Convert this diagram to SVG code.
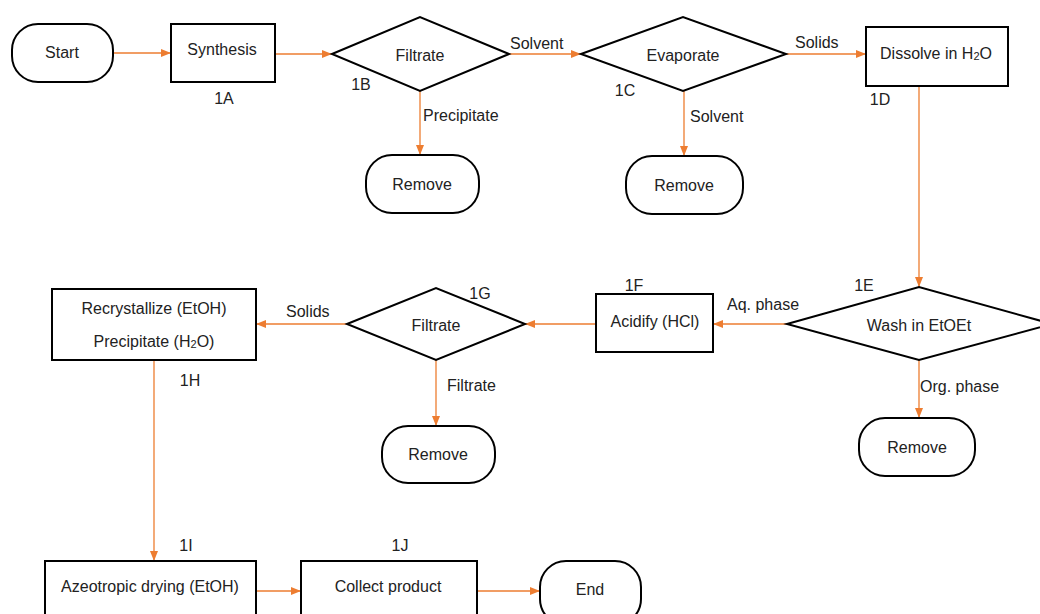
<svg xmlns="http://www.w3.org/2000/svg" width="1040" height="614" viewBox="0 0 1040 614">
<defs>
<marker id="ah" markerWidth="10" markerHeight="8" refX="10" refY="4" orient="auto" markerUnits="userSpaceOnUse">
<path d="M0,0 L10,4 L0,8 Z" fill="#ED7D31"/>
</marker>
<style>
.n{fill:#fff;stroke:#000;stroke-width:2}
.t{font-family:"Liberation Sans",Arial,sans-serif;font-size:16px;fill:#222;text-anchor:middle;dominant-baseline:central}
.l{font-family:"Liberation Sans",Arial,sans-serif;font-size:16px;fill:#222;dominant-baseline:central}
.c{stroke:#ED7D31;stroke-width:1.3;fill:none}
.a{marker-end:url(#ah)}
</style>
</defs>
<rect width="1040" height="614" fill="#fff"/>
<g id="connectors">
<line class="c a" x1="113" y1="53" x2="171" y2="53"/>
<line class="c a" x1="275" y1="54" x2="332" y2="54"/>
<line class="c a" x1="509" y1="54" x2="581" y2="54"/>
<line class="c a" x1="786" y1="54" x2="866" y2="54"/>
<line class="c a" x1="420" y1="91" x2="420" y2="155"/>
<line class="c a" x1="684" y1="91" x2="684" y2="156"/>
<line class="c a" x1="919" y1="86" x2="919" y2="287"/>
<line class="c a" x1="787" y1="324" x2="713" y2="324"/>
<line class="c a" x1="596" y1="324" x2="525" y2="324"/>
<line class="c a" x1="347" y1="324" x2="256" y2="324"/>
<line class="c a" x1="436" y1="360" x2="436" y2="426"/>
<line class="c a" x1="919" y1="360" x2="919" y2="418"/>
<line class="c a" x1="154" y1="360" x2="154" y2="561"/>
<line class="c a" x1="256" y1="591" x2="301" y2="591"/>
<line class="c a" x1="477" y1="591" x2="540" y2="591"/>
<text class="l" x="510" y="43">Solvent</text>
<text class="l" x="795" y="42">Solids</text>
<text class="l" x="423" y="115">Precipitate</text>
<text class="l" x="690" y="116">Solvent</text>
<text class="l" x="727" y="304">Aq. phase</text>
<text class="l" x="286" y="311">Solids</text>
<text class="l" x="447" y="385">Filtrate</text>
<text class="l" x="920" y="386">Org. phase</text>
</g>
<g id="start">
<rect class="n" x="12" y="24" width="101" height="58" rx="26" ry="26"/>
<text class="t" x="62" y="52">Start</text>
</g>
<g id="n1A">
<rect class="n" x="171" y="24" width="104" height="58"/>
<text class="t" x="222" y="49">Synthesis</text>
<text class="t" x="224" y="98">1A</text>
</g>
<g id="n1B">
<polygon class="n" points="332,54 420,17 509,54 420,91"/>
<text class="t" x="420" y="55">Filtrate</text>
<text class="t" x="361" y="84">1B</text>
</g>
<g id="remove1">
<rect class="n" x="366" y="155" width="113" height="58" rx="26" ry="26"/>
<text class="t" x="422" y="184">Remove</text>
</g>
<g id="n1C">
<polygon class="n" points="581,54 683,17 786,54 683,91"/>
<text class="t" x="683" y="55">Evaporate</text>
<text class="t" x="625" y="90">1C</text>
</g>
<g id="remove2">
<rect class="n" x="626" y="156" width="117" height="58" rx="26" ry="26"/>
<text class="t" x="684" y="185">Remove</text>
</g>
<g id="n1D">
<rect class="n" x="866" y="27" width="142" height="59"/>
<text class="t" x="936" y="53">Dissolve in H<tspan font-size="11" dy="3">2</tspan><tspan dy="-3">O</tspan></text>
<text class="t" x="880" y="99">1D</text>
</g>
<g id="n1E">
<polygon class="n" points="787,324 919,287 1052,324 919,360"/>
<text class="t" x="919" y="325">Wash in EtOEt</text>
<text class="t" x="864" y="285">1E</text>
</g>
<g id="remove4">
<rect class="n" x="859" y="418" width="116" height="58" rx="26" ry="26"/>
<text class="t" x="917" y="447">Remove</text>
</g>
<g id="n1F">
<rect class="n" x="596" y="294" width="117" height="58"/>
<text class="t" x="655" y="321">Acidify (HCl)</text>
<text class="t" x="634" y="285">1F</text>
</g>
<g id="n1G">
<polygon class="n" points="347,324 436,288 525,324 436,360"/>
<text class="t" x="436" y="325">Filtrate</text>
<text class="t" x="480" y="293">1G</text>
</g>
<g id="remove3">
<rect class="n" x="382" y="426" width="113" height="57" rx="26" ry="26"/>
<text class="t" x="438" y="454">Remove</text>
</g>
<g id="n1H">
<rect class="n" x="52" y="289" width="204" height="71"/>
<text class="t" x="154" y="308">Recrystallize (EtOH)</text>
<text class="t" x="154" y="341">Precipitate (H<tspan font-size="11" dy="3">2</tspan><tspan dy="-3">O)</tspan></text>
<text class="t" x="190" y="380">1H</text>
</g>
<g id="n1I">
<rect class="n" x="45" y="561" width="211" height="60"/>
<text class="t" x="150" y="586">Azeotropic drying (EtOH)</text>
<text class="t" x="186" y="545">1I</text>
</g>
<g id="n1J">
<rect class="n" x="301" y="561" width="176" height="60"/>
<text class="t" x="388" y="586">Collect product</text>
<text class="t" x="400" y="545">1J</text>
</g>
<g id="end">
<rect class="n" x="540" y="561" width="101" height="64" rx="26" ry="26"/>
<text class="t" x="590" y="589">End</text>
</g>
</svg>
